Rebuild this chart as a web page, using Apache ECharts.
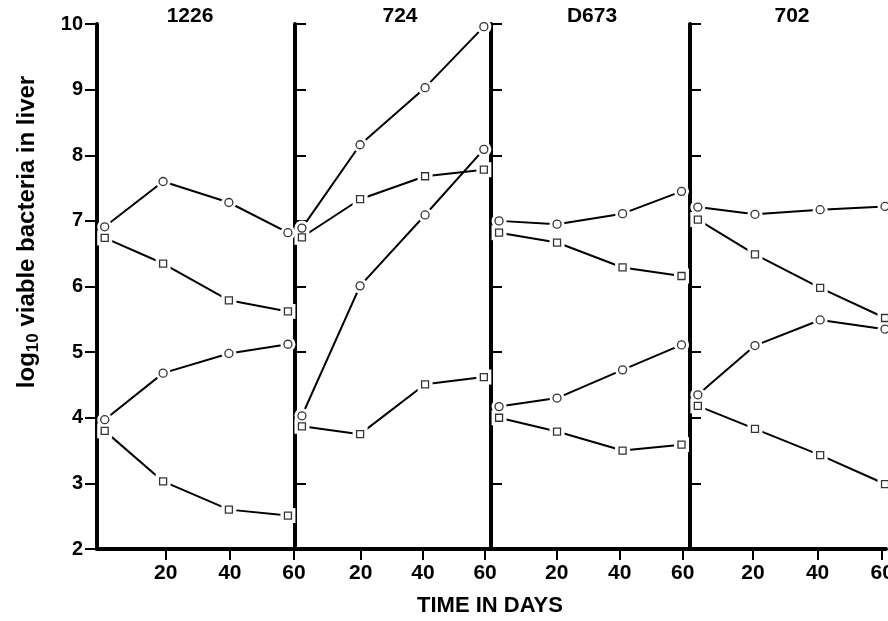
<!DOCTYPE html>
<html>
<head>
<meta charset="utf-8">
<script src="https://cdn.jsdelivr.net/npm/echarts@6/dist/echarts.min.js"></script>
<style>html,body{margin:0;padding:0;background:#fff;}#chart{width:888px;height:621px;}</style>
</head>
<body>
<div id="chart"></div>
<script>
// ---- data ----
const panelNames = ['1226', '724', 'D673', '702'];
const xTickValues = [20, 40, 60];
const yTickMin = 2, yTickMax = 10;

const days1226 = [1, 19.2, 39.7, 58.1];
const circleHigh1226 = [6.91, 7.60, 7.28, 6.82];
const squareHigh1226 = [6.74, 6.35, 5.79, 5.62];
const circleLow1226 = [3.97, 4.68, 4.98, 5.12];
const squareLow1226 = [3.80, 3.03, 2.60, 2.51];

const days724 = [1.1, 19.8, 40.7, 59.6];
const circleHigh724 = [6.89, 8.16, 9.03, 9.96];
const squareHigh724 = [6.75, 7.33, 7.68, 7.78];
const circleLow724 = [4.03, 6.01, 7.09, 8.09];
const squareLow724 = [3.87, 3.75, 4.51, 4.62];

const daysD673 = [1.7, 20.1, 40.9, 59.6];
const circleHighD673 = [7.00, 6.95, 7.11, 7.45];
const squareHighD673 = [6.82, 6.67, 6.29, 6.16];
const circleLowD673 = [4.17, 4.30, 4.73, 5.11];
const squareLowD673 = [4.00, 3.79, 3.50, 3.59];

const days702 = [2.9, 20.6, 40.8, 60.9];
const circleHigh702 = [7.21, 7.10, 7.17, 7.22];
const squareHigh702 = [7.02, 6.49, 5.98, 5.52];
const circleLow702 = [4.35, 5.10, 5.49, 5.35];
const squareLow702 = [4.18, 3.83, 3.43, 2.99];

const panels = [
  {days: days1226, series: [[circleHigh1226,'circle'],[squareHigh1226,'rect'],[circleLow1226,'circle'],[squareLow1226,'rect']]},
  {days: days724, series: [[circleHigh724,'circle'],[squareHigh724,'rect'],[circleLow724,'circle'],[squareLow724,'rect']]},
  {days: daysD673, series: [[circleHighD673,'circle'],[squareHighD673,'rect'],[circleLowD673,'circle'],[squareLowD673,'rect']]},
  {days: days702, series: [[circleHigh702,'circle'],[squareHigh702,'rect'],[circleLow702,'circle'],[squareLow702,'rect']]}
];

// ---- layout ----
const gridLeft = [97, 295, 491, 690];
const gridWidth = [198, 196, 199, 196];
const xRange = [[-1.4, 60.3], [-1.13, 61.9], [-0.86, 62.3], [0.47, 61.2]];
const titleCenter = [190, 400, 592, 792];
const gridTop = 24, gridHeight = 525;

const tickFont = "'Liberation Sans', Arial, sans-serif";
const textFont = "'Liberation Sans', Arial, sans-serif";

const grids = [], xAxes = [], yAxes = [], series = [], titles = [];
for (let p = 0; p < 4; p++) {
  grids.push({left: gridLeft[p], top: gridTop, width: gridWidth[p], height: gridHeight, containLabel: false, outerBoundsMode: 'none'});
  xAxes.push({
    type: 'value', gridIndex: p, min: xRange[p][0], max: xRange[p][1],
    axisLine: {show: true, onZero: false, lineStyle: {color: '#000', width: 4}},
    axisTick: {show: true, customValues: xTickValues, length: 11, lineStyle: {color: '#000', width: 2}},
    axisLabel: {show: true, customValues: xTickValues, color: '#000', fontFamily: tickFont, fontWeight: 'bold', fontSize: 21, margin: 14},
    splitLine: {show: false}
  });
  yAxes.push({
    type: 'value', gridIndex: p, min: yTickMin, max: yTickMax, interval: 1,
    axisLine: {show: true, onZero: false, lineStyle: {color: '#000', width: 4}},
    axisTick: {show: true, inside: p > 0, length: p === 0 ? 12 : 11, lineStyle: {color: '#000', width: 2}},
    axisLabel: {show: p === 0, color: '#000', fontFamily: tickFont, fontWeight: 'bold', fontSize: 20, margin: 14},
    splitLine: {show: false}
  });
  titles.push({
    text: panelNames[p], left: titleCenter[p], top: 6, textAlign: 'center', padding: 0,
    textStyle: {color: '#000', fontFamily: textFont, fontWeight: 'bold', fontSize: 21}
  });
  const days = panels[p].days;
  panels[p].series.forEach(([vals, sym]) => {
    const data = vals.map((v, i) => [days[i], v]);
    series.push({
      type: 'line', xAxisIndex: p, yAxisIndex: p, data: data,
      symbol: sym, symbolSize: 15, showSymbol: true, clip: false, silent: true,
      itemStyle: {color: '#fff', borderWidth: 0},
      lineStyle: {color: '#000', width: 2},
      z: 2
    });
    series.push({
      type: 'scatter', xAxisIndex: p, yAxisIndex: p, data: data,
      symbol: sym, symbolSize: sym === 'circle' ? 8 : 7, clip: false, silent: true,
      itemStyle: {color: '#fff', borderColor: '#000', borderWidth: 1.3},
      z: 3
    });
  });
}
titles.push({
  text: 'TIME IN DAYS', left: 490, top: 595, textAlign: 'center', padding: 0,
  textStyle: {color: '#000', fontFamily: textFont, fontWeight: 'bold', fontSize: 22}
});

const chart = echarts.init(document.getElementById('chart'), null, {renderer: 'canvas'});
chart.setOption({
  animation: false,
  backgroundColor: '#fff',
  title: titles,
  grid: grids,
  xAxis: xAxes,
  yAxis: yAxes,
  series: series,
  graphic: [{
    type: 'text', x: 27, y: 232, rotation: Math.PI / 2,
    style: {
      text: '{a|log}{b|10}{a| viable bacteria in liver}',
      align: 'center', verticalAlign: 'middle',
      fill: '#000',
      rich: {
        a: {fontFamily: textFont, fontWeight: 'bold', fontSize: 24, lineHeight: 30, fill: '#000'},
        b: {fontFamily: textFont, fontWeight: 'bold', fontSize: 17, lineHeight: 17, verticalAlign: 'bottom', fill: '#000'}
      }
    }
  }]
});
</script>
</body>
</html>
